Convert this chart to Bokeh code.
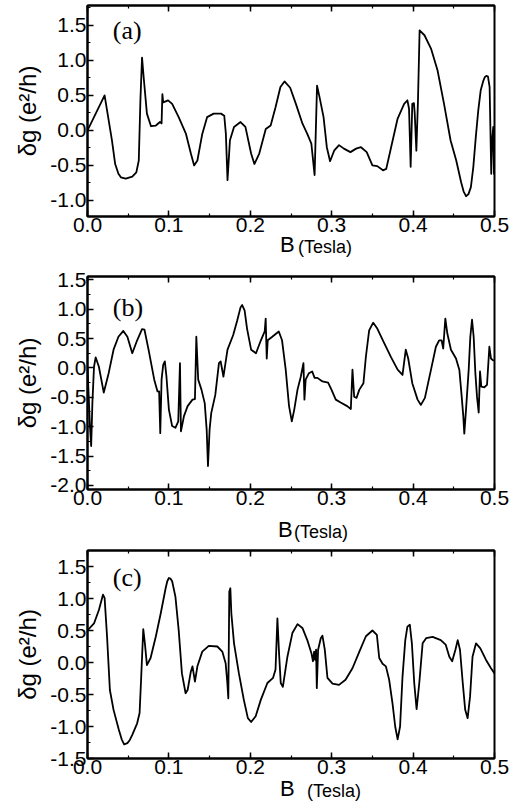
from bokeh.plotting import figure
from bokeh.models import (Range1d, FixedTicker, PrintfTickFormatter, LinearAxis,
                          Label, CustomJSTickFormatter, Div)
from bokeh.layouts import column
from bokeh.embed import file_html
from bokeh.resources import INLINE

# ---------------- data ----------------
b_a = [0.000, 0.021, 0.030, 0.034, 0.038, 0.041, 0.047, 0.055, 0.060, 0.063, 0.065, 0.067, 0.069,
       0.073, 0.078, 0.084, 0.089, 0.091, 0.092, 0.093, 0.099, 0.104, 0.112, 0.121, 0.127,
       0.131, 0.135, 0.141, 0.147, 0.155, 0.164, 0.168, 0.170, 0.172, 0.175, 0.180, 0.188,
       0.194, 0.201, 0.205, 0.211, 0.219, 0.225, 0.231, 0.237, 0.242, 0.249, 0.256, 0.264,
       0.270, 0.275, 0.279, 0.282, 0.285, 0.290, 0.294, 0.298, 0.303, 0.309, 0.315, 0.323,
       0.330, 0.336, 0.343, 0.350, 0.356, 0.363, 0.367, 0.373, 0.381, 0.389, 0.393, 0.395,
       0.397, 0.399, 0.401, 0.402, 0.404, 0.406, 0.408, 0.414, 0.422, 0.430, 0.438, 0.446,
       0.453, 0.459, 0.462, 0.465, 0.468, 0.471, 0.474, 0.477, 0.480, 0.483, 0.486, 0.488,
       0.490, 0.492, 0.494, 0.496, 0.497, 0.4985, 0.4994, 0.500]
g_a = [0.00, 0.50, -0.14, -0.48, -0.62, -0.67, -0.69, -0.66, -0.60, -0.43, 0.43, 1.04, 0.76,
       0.24, 0.06, 0.07, 0.12, 0.10, 0.52, 0.40, 0.43, 0.38, 0.19, -0.05, -0.33,
       -0.50, -0.43, -0.05, 0.19, 0.24, 0.24, 0.21, -0.05, -0.71, -0.14, 0.05, 0.12,
       0.05, -0.33, -0.48, -0.33, 0.02, 0.07, 0.33, 0.62, 0.70, 0.61, 0.38, 0.10,
       -0.05, -0.19, -0.64, 0.64, 0.48, 0.19, -0.24, -0.44, -0.29, -0.21, -0.26, -0.31,
       -0.26, -0.24, -0.31, -0.50, -0.51, -0.57, -0.55, -0.24, 0.17, 0.38, 0.43, 0.31,
       -0.52, 0.38, 0.39, 0.24, -0.29, 0.43, 1.43, 1.36, 1.17, 0.86, 0.38, -0.14,
       -0.43, -0.74, -0.87, -0.94, -0.91, -0.81, -0.52, -0.10, 0.28, 0.57, 0.70, 0.76,
       0.78, 0.77, 0.62, -0.62, -0.14, 0.05, -0.62, -0.05]

b_b = [0.000, 0.003, 0.0045, 0.006, 0.008, 0.010, 0.014, 0.020, 0.026, 0.032, 0.038, 0.044,
       0.049, 0.055, 0.061, 0.067, 0.070, 0.075, 0.082, 0.086, 0.088, 0.0894, 0.091, 0.093,
       0.095, 0.097, 0.100, 0.104, 0.108, 0.1115, 0.1136, 0.1148, 0.1185, 0.123, 0.129, 0.132,
       0.1337, 0.136, 0.140, 0.144, 0.1464, 0.148, 0.150, 0.152, 0.157, 0.1615, 0.1636, 0.167,
       0.172, 0.179, 0.184, 0.188, 0.190, 0.193, 0.196, 0.201, 0.207, 0.213, 0.2177, 0.2189,
       0.2202, 0.2214, 0.227, 0.235, 0.239, 0.2435, 0.2476, 0.251, 0.254, 0.258, 0.262, 0.2653,
       0.2665, 0.268, 0.272, 0.276, 0.279, 0.2825, 0.2886, 0.2956, 0.2997, 0.305, 0.311, 0.319,
       0.3235, 0.3255, 0.3276, 0.3305, 0.334, 0.339, 0.342, 0.346, 0.351, 0.356, 0.3645, 0.373,
       0.381, 0.387, 0.391, 0.394, 0.399, 0.4055, 0.4096, 0.4145, 0.422, 0.428, 0.432, 0.435,
       0.437, 0.4396, 0.442, 0.4465, 0.4527, 0.4568, 0.4597, 0.4617, 0.4629, 0.465, 0.4683, 0.4703,
       0.4724, 0.4744, 0.4765, 0.4785, 0.4806, 0.4822, 0.4838, 0.4875, 0.4908, 0.4937, 0.4957, 0.4990]
g_b = [0.00, -0.99, -1.33, -0.60, 0.02, 0.18, 0.02, -0.42, -0.09, 0.31, 0.53, 0.63,
       0.53, 0.25, 0.47, 0.66, 0.65, 0.31, -0.20, -0.40, -0.40, -1.11, -0.20, 0.05,
       0.11, -0.15, -0.71, -0.99, -1.02, -0.91, 0.08, -1.08, -0.82, -0.65, -0.54, -0.53,
       0.53, -0.20, -0.37, -0.60, -1.05, -1.67, -1.05, -0.77, -0.46, 0.08, 0.11, -0.15,
       0.31, 0.56, 0.81, 1.03, 1.07, 0.98, 0.67, 0.31, 0.25, 0.47, 0.62, 0.84,
       0.16, 0.47, 0.53, 0.62, 0.47, -0.03, -0.65, -0.91, -0.71, -0.37, -0.15, 0.08,
       -0.54, -0.20, -0.09, -0.06, -0.17, -0.17, -0.23, -0.25, -0.37, -0.54, -0.59, -0.65,
       -0.70, -0.03, -0.49, -0.51, -0.37, -0.26, 0.19, 0.64, 0.77, 0.67, 0.42, 0.18,
       -0.03, -0.12, 0.31, 0.16, -0.26, -0.54, -0.63, -0.51, -0.03, 0.36, 0.47, 0.47,
       0.33, 0.84, 0.59, 0.31, 0.16, -0.03, -0.49, -0.83, -1.12, -0.71, -0.03, 0.53,
       0.82, 0.53, -0.09, -0.49, -0.76, -0.06, -0.32, -0.33, -0.29, 0.36, 0.16, 0.12]

b_c = [0.000, 0.008, 0.014, 0.019, 0.021, 0.024, 0.0275, 0.032, 0.0385, 0.042, 0.045, 0.049,
       0.052, 0.055, 0.058, 0.061, 0.064, 0.066, 0.0685, 0.0705, 0.073, 0.0775, 0.084, 0.090,
       0.096, 0.098, 0.100, 0.102, 0.104, 0.108, 0.112, 0.116, 0.1205, 0.123, 0.127, 0.129,
       0.132, 0.135, 0.141, 0.149, 0.1595, 0.1656, 0.1697, 0.1718, 0.173, 0.1742, 0.1755, 0.1767,
       0.180, 0.186, 0.192, 0.197, 0.201, 0.2066, 0.213, 0.221, 0.228, 0.231, 0.2333, 0.2353,
       0.2374, 0.240, 0.2456, 0.2517, 0.258, 0.264, 0.270, 0.275, 0.277, 0.2784, 0.2796, 0.2808,
       0.2817, 0.2833, 0.2866, 0.2886, 0.2915, 0.2948, 0.301, 0.309, 0.317, 0.3255, 0.334, 0.342,
       0.350, 0.3555, 0.3584, 0.3625, 0.3666, 0.3706, 0.3747, 0.378, 0.381, 0.384, 0.387, 0.3904,
       0.393, 0.396, 0.3985, 0.4014, 0.4043, 0.4076, 0.4117, 0.416, 0.424, 0.434, 0.440, 0.4445,
       0.448, 0.452, 0.4548, 0.4576, 0.461, 0.464, 0.467, 0.470, 0.473, 0.4773, 0.4826, 0.4896,
       0.4957, 0.500]
g_c = [0.50, 0.61, 0.82, 1.06, 1.01, 0.41, -0.43, -0.74, -1.05, -1.20, -1.28, -1.26,
       -1.21, -1.13, -1.04, -0.95, -0.79, -0.22, 0.52, 0.30, -0.04, 0.07, 0.41, 0.77,
       1.16, 1.27, 1.32, 1.31, 1.27, 1.03, 0.51, -0.17, -0.48, -0.43, -0.14, -0.06,
       -0.30, -0.06, 0.17, 0.26, 0.25, 0.17, -0.01, -0.32, -0.56, 1.11, 1.16, 0.77,
       0.30, -0.17, -0.58, -0.87, -0.93, -0.84, -0.58, -0.32, -0.24, -0.11, 0.69, 0.15,
       -0.32, -0.38, 0.09, 0.46, 0.60, 0.54, 0.35, 0.15, 0.02, 0.17, 0.04, 0.20,
       -0.40, 0.20, 0.38, 0.42, 0.20, -0.24, -0.33, -0.35, -0.27, -0.09, 0.17, 0.41,
       0.50, 0.43, 0.07, -0.02, -0.06, -0.27, -0.64, -1.00, -1.20, -1.00, -0.22, 0.35,
       0.56, 0.59, 0.30, -0.32, -0.73, -0.32, 0.30, 0.38, 0.40, 0.35, 0.28, 0.09,
       0.02, 0.20, 0.35, 0.20, -0.32, -0.74, -0.87, -0.53, 0.09, 0.30, 0.22, 0.04,
       -0.09, -0.17]

x_ticks = [0.0, 0.1, 0.2, 0.3, 0.4, 0.5]
yticks_a = [-1.0, -0.5, 0.0, 0.5, 1.0, 1.5]
yticks_b = [-2.0, -1.5, -1.0, -0.5, 0.0, 0.5, 1.0, 1.5]
yticks_c = [-1.5, -1.0, -0.5, 0.0, 0.5, 1.0, 1.5]
panel_tags = ["(a)", "(b)", "(c)"]
y_title = "δg (e²/h)"
x_title_main = "B"
x_title_unit = "(Tesla)"

SANS = "Liberation Sans"
SERIF = "Liberation Serif"


def minor_of(ticks, step):
    out = []
    t = ticks[0] - step
    while t <= ticks[-1] + step + 1e-9:
        out.append(round(t, 4))
        t += step
    return out


def style_axis(ax, labels=True):
    ax.axis_line_color = "black"
    ax.axis_line_width = 2
    ax.major_tick_line_color = "black"
    ax.major_tick_line_width = 1.5
    ax.minor_tick_line_color = "black"
    ax.minor_tick_line_width = 1.2
    ax.major_tick_in = 6
    ax.major_tick_out = 0
    ax.minor_tick_in = 3
    ax.minor_tick_out = 0
    ax.major_label_text_font = SANS
    ax.major_label_text_color = "black"
    if labels:
        ax.major_label_text_font_size = "21px"
        ax.major_label_standoff = 1
    else:
        ax.major_label_text_font_size = "1px"
        ax.major_label_standoff = 0
        ax.formatter = CustomJSTickFormatter(code="return ''")


def make_panel(bx, gy, yr, yticks, height, btop, bbot, tag, tag_y):
    p = figure(width=520, height=height, x_range=Range1d(0, 0.5), y_range=Range1d(*yr),
               output_backend="svg", toolbar_location=None,
               min_border_left=87, min_border_right=26,
               min_border_top=btop, min_border_bottom=bbot)
    p.grid.visible = False
    p.outline_line_color = "black"
    p.outline_line_width = 2
    p.background_fill_color = "white"
    p.border_fill_color = "white"

    p.xaxis.ticker = FixedTicker(ticks=x_ticks, minor_ticks=minor_of(x_ticks, 0.05))
    p.yaxis.ticker = FixedTicker(ticks=yticks, minor_ticks=minor_of(yticks, 0.25))
    p.xaxis.formatter = PrintfTickFormatter(format="%.1f")
    p.yaxis.formatter = PrintfTickFormatter(format="%.1f")
    style_axis(p.xaxis[0])
    style_axis(p.yaxis[0])
    p.yaxis.axis_label = y_title
    p.yaxis.axis_label_text_font = SANS
    p.yaxis.axis_label_text_font_style = "normal"
    p.yaxis.axis_label_text_font_size = "24px"
    p.yaxis.axis_label_text_color = "black"
    p.yaxis.axis_label_standoff = 6

    top = LinearAxis(ticker=FixedTicker(ticks=x_ticks, minor_ticks=minor_of(x_ticks, 0.05)))
    style_axis(top, labels=False)
    p.add_layout(top, "above")

    p.line(bx, gy, line_color="black", line_width=1.8, line_join="round")

    p.add_layout(Label(x=0.031, y=tag_y, text=tag, text_font=SERIF, text_font_size="26px",
                       text_align="left", text_baseline="middle", text_color="black"))
    return p


def x_title_div(height, baseline, b_left, t_left):
    # "B" large, "(Tesla)" small, sharing one baseline (Liberation Sans metrics)
    b_top = baseline - 0.8465 * 22
    t_top = baseline - 0.8465 * 18
    html = (
        f'<div style="position:relative;width:520px;height:{height}px;overflow:visible;">'
        f'<span style="position:absolute;left:{b_left}px;top:{b_top:.1f}px;'
        f"font-family:'{SANS}';font-size:22px;line-height:1;color:black;white-space:nowrap;\">"
        f'{x_title_main}</span>'
        f'<span style="position:absolute;left:{t_left}px;top:{t_top:.1f}px;'
        f"font-family:'{SANS}';font-size:18px;line-height:1;color:black;white-space:nowrap;\">"
        f'{x_title_unit}</span></div>'
    )
    return Div(text=html, width=520, height=height, margin=0,
               styles={"overflow": "visible"})


pa = make_panel(b_a, g_a, (-1.23, 1.785), yticks_a, 240, 5, 24, panel_tags[0], 1.43)
da = x_title_div(28, 13, 280, 298)
pb = make_panel(b_b, g_b, (-2.07, 1.556), yticks_b, 245, 8, 24, panel_tags[1], 1.03)
db = x_title_div(29, 25, 278, 294)
pc = make_panel(b_c, g_c, (-1.5, 1.75), yticks_c, 240, 8, 24, panel_tags[2], 1.33)
dc = x_title_div(28, 15, 280, 307)

layout = column(pa, da, pb, db, pc, dc, spacing=0)
open("out.html", "w").write(file_html(layout, INLINE))
